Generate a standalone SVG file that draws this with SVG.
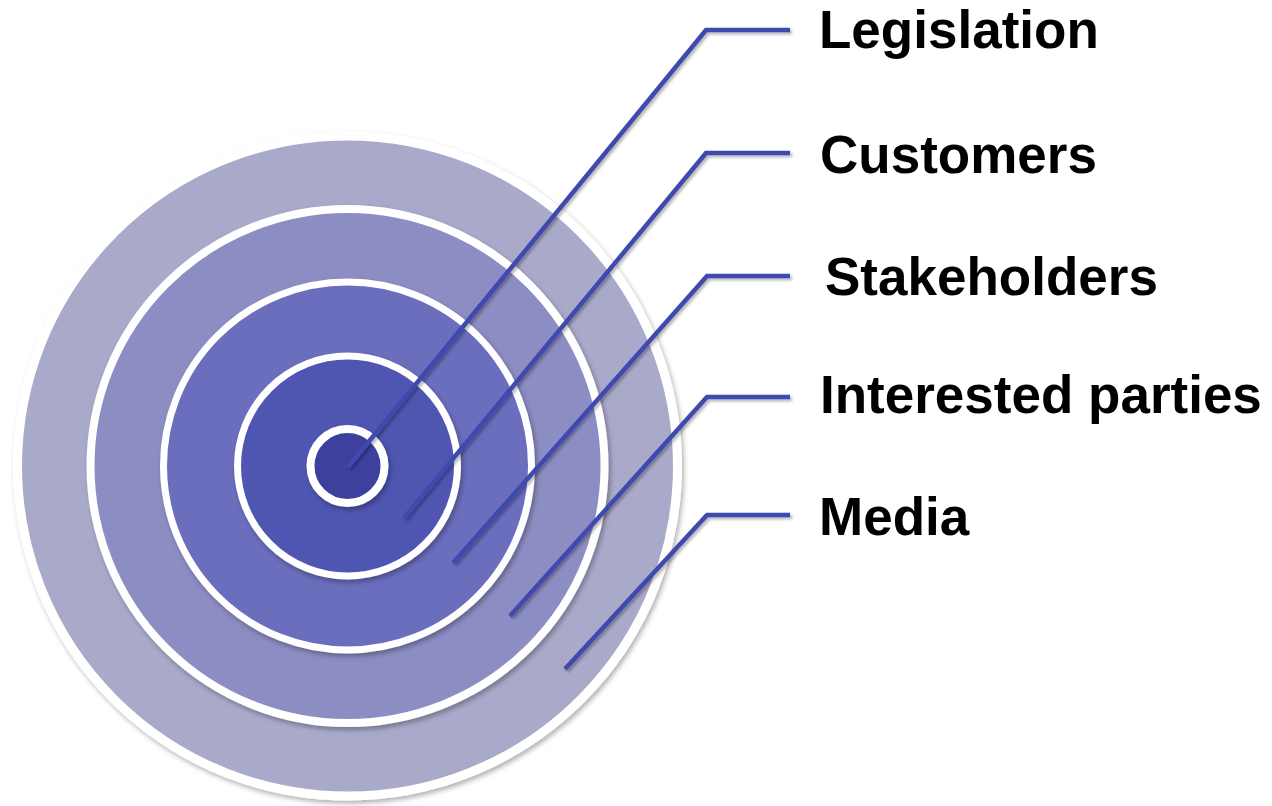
<svg xmlns="http://www.w3.org/2000/svg" width="1272" height="806" viewBox="0 0 1272 806">
  <defs>
    <filter id="sh" x="-10%" y="-10%" width="130%" height="130%">
      <feDropShadow dx="2" dy="3" stdDeviation="2.5" flood-color="#000" flood-opacity="0.3"/>
    </filter>
    <filter id="lsh" x="-10%" y="-10%" width="130%" height="130%">
      <feDropShadow dx="2" dy="2" stdDeviation="1.5" flood-color="#000" flood-opacity="0.3"/>
    </filter>
  </defs>
  <style>
    .ring { stroke: #ffffff; filter: url(#sh); }
    .conn { fill: none; stroke: #4148AE; stroke-width: 4.5; stroke-linejoin: miter; filter: url(#lsh); }
    .lbl { font-family: "Liberation Sans", Arial, sans-serif; font-weight: bold; font-size: 53px; fill: #000000; }
  </style>
  <rect width="1272" height="806" fill="#ffffff"/>
  <g id="ring-media"><circle class="ring" cx="347.5" cy="466" r="330" stroke-width="9" fill="#A9A9CA"/></g>
  <g id="ring-interested"><circle class="ring" cx="347.5" cy="466" r="257" stroke-width="8" fill="#8C8DC3"/></g>
  <g id="ring-stakeholders"><circle class="ring" cx="347.5" cy="466" r="184" stroke-width="7" fill="#6A6EBD"/></g>
  <g id="ring-customers"><circle class="ring" cx="347.5" cy="466" r="110" stroke-width="7" fill="#5057B1"/></g>
  <g id="ring-legislation"><circle class="ring" cx="347.5" cy="466" r="37" stroke-width="8" fill="#3D419D"/></g>
  <g id="connectors">
    <polyline class="conn" points="348,467 706,30 790,30"/>
    <polyline class="conn" points="404,518 706,153 790,153"/>
    <polyline class="conn" points="453,563 707,276 790,276"/>
    <polyline class="conn" points="510,616 707,397 790,397"/>
    <polyline class="conn" points="565,669 707,515 790,515"/>
  </g>
  <g id="label-legislation"><text class="lbl" x="819" y="48">Legislation</text></g>
  <g id="label-customers"><text class="lbl" x="820" y="173">Customers</text></g>
  <g id="label-stakeholders"><text class="lbl" x="825" y="295">Stakeholders</text></g>
  <g id="label-interested"><text class="lbl" x="820" y="413">Interested parties</text></g>
  <g id="label-media"><text class="lbl" x="819" y="535">Media</text></g>
</svg>
